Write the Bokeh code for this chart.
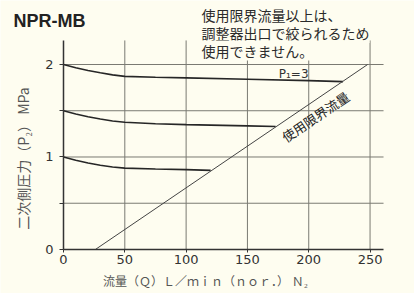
import math
from bokeh.plotting import figure
from bokeh.models import Label, FixedTicker, Range1d
from bokeh.embed import file_html
from bokeh.resources import INLINE

# Data
x_ticks = [0, 50, 100, 150, 200, 250]
y_ticks = [0, 1, 2]
y_minor = [0.5, 1.5]
grid_x = [50, 100, 150, 200, 250]
grid_y = [0.5, 1.0, 1.5, 2.0]

flow_a = [0, 10, 20, 30, 40, 50, 75, 100, 150, 200, 228]
p2_a = [2.0, 1.965, 1.935, 1.91, 1.888, 1.872, 1.862, 1.855, 1.84, 1.826, 1.815]

flow_b = [0, 10, 20, 30, 40, 50, 75, 100, 150, 173]
p2_b = [1.5, 1.465, 1.435, 1.41, 1.39, 1.376, 1.36, 1.35, 1.336, 1.33]

flow_c = [0, 10, 20, 30, 40, 50, 75, 100, 120]
p2_c = [1.0, 0.965, 0.935, 0.91, 0.892, 0.88, 0.87, 0.863, 0.855]

limit_x = [26, 248]
limit_y = [0.0, 2.0]

title_text = "NPR-MB"
note_lines = ["使用限界流量以上は、", "調整器出口で絞られるため", "使用できません。"]
p1_text = "P₁=3"
limit_text = "使用限界流量"
xlabel = "流量（Ｑ）Ｌ／ｍｉｎ（ｎｏｒ．） Ｎ₂"
ylabel = "二次側圧力（P₂） MPa"

# plot extents (data units)
X_END = 261
Y_END = 2.26

BG = "#fefdf0"
JP = "Noto Sans CJK JP"
GRID = "#7a7a72"

p = figure(width=414, height=293,
           x_range=Range1d(-51.38, 286.25), y_range=Range1d(-0.4757, 2.6919),
           output_backend="svg", toolbar_location=None,
           min_border_left=0, min_border_right=0, min_border_top=0, min_border_bottom=0)
p.background_fill_color = BG
p.border_fill_color = BG
p.outline_line_color = None
p.xgrid.visible = False
p.ygrid.visible = False

# axes placed at the data origin
p.xaxis.fixed_location = 0
p.yaxis.fixed_location = 0
p.xaxis.bounds = (0, X_END)
p.yaxis.bounds = (0, Y_END)
p.xaxis.ticker = FixedTicker(ticks=x_ticks)
p.yaxis.ticker = FixedTicker(ticks=y_ticks, minor_ticks=y_minor)
for ax in (p.xaxis[0], p.yaxis[0]):
    ax.axis_line_color = "#333333"
    ax.axis_line_width = 1.5
    ax.major_tick_line_color = "#333333"
    ax.major_tick_in = 0
    ax.major_label_text_font = "DejaVu Sans"
    ax.major_label_text_font_size = "13px"
    ax.major_label_text_color = "#333333"
p.xaxis.major_tick_out = 3
p.xaxis.major_label_standoff = 3
p.xaxis.minor_tick_line_color = None
p.yaxis.major_tick_out = 4
p.yaxis.minor_tick_out = 4
p.yaxis.minor_tick_in = 0
p.yaxis.minor_tick_line_color = "#333333"
p.yaxis.major_label_standoff = 6

# grid lines limited to the chart area
p.segment(x0=grid_x, y0=[0] * len(grid_x), x1=grid_x, y1=[Y_END] * len(grid_x),
          line_color=GRID, line_width=1)
p.segment(x0=[0] * len(grid_y), y0=grid_y, x1=[X_END] * len(grid_y), y1=grid_y,
          line_color=GRID, line_width=1)

# lines
for fx, fy in ((flow_a, p2_a), (flow_b, p2_b), (flow_c, p2_c)):
    p.line(fx, fy, line_color="#262626", line_width=1.6)
p.line(limit_x, limit_y, line_color="#444444", line_width=1)

# texts
p.add_layout(Label(x=-40.8, y=2.465, text=title_text, text_font="Liberation Sans",
                   text_font_style="bold", text_font_size="18px", text_color="#222222",
                   text_baseline="middle", text_align="left"))
for txt, ty in zip(note_lines, [2.53, 2.341, 2.151]):
    p.add_layout(Label(x=112.6, y=ty, text=txt, text_font=JP, text_font_size="14px",
                       text_color="#2a2a2a", text_baseline="middle", text_align="left",
                       background_fill_color=BG))
p.add_layout(Label(x=175.6, y=1.90, text=p1_text, text_font="DejaVu Sans",
                   text_font_size="12px", text_color="#333333",
                   text_baseline="middle", text_align="left"))
p.add_layout(Label(x=205.5, y=1.435, text=limit_text, text_font=JP, text_font_size="13px",
                   text_color="#222222", text_baseline="middle", text_align="center",
                   angle=0.593))
p.add_layout(Label(x=115.8, y=-0.335, text=xlabel, text_font=JP, text_font_size="12px",
                   text_color="#555555", text_baseline="middle", text_align="center"))
p.add_layout(Label(x=-33.4, y=0.984, text=ylabel, text_font=JP, text_font_size="14px",
                   text_color="#555555", text_baseline="middle", text_align="center",
                   angle=math.pi / 2))

open("out.html", "w").write(file_html(p, INLINE))
